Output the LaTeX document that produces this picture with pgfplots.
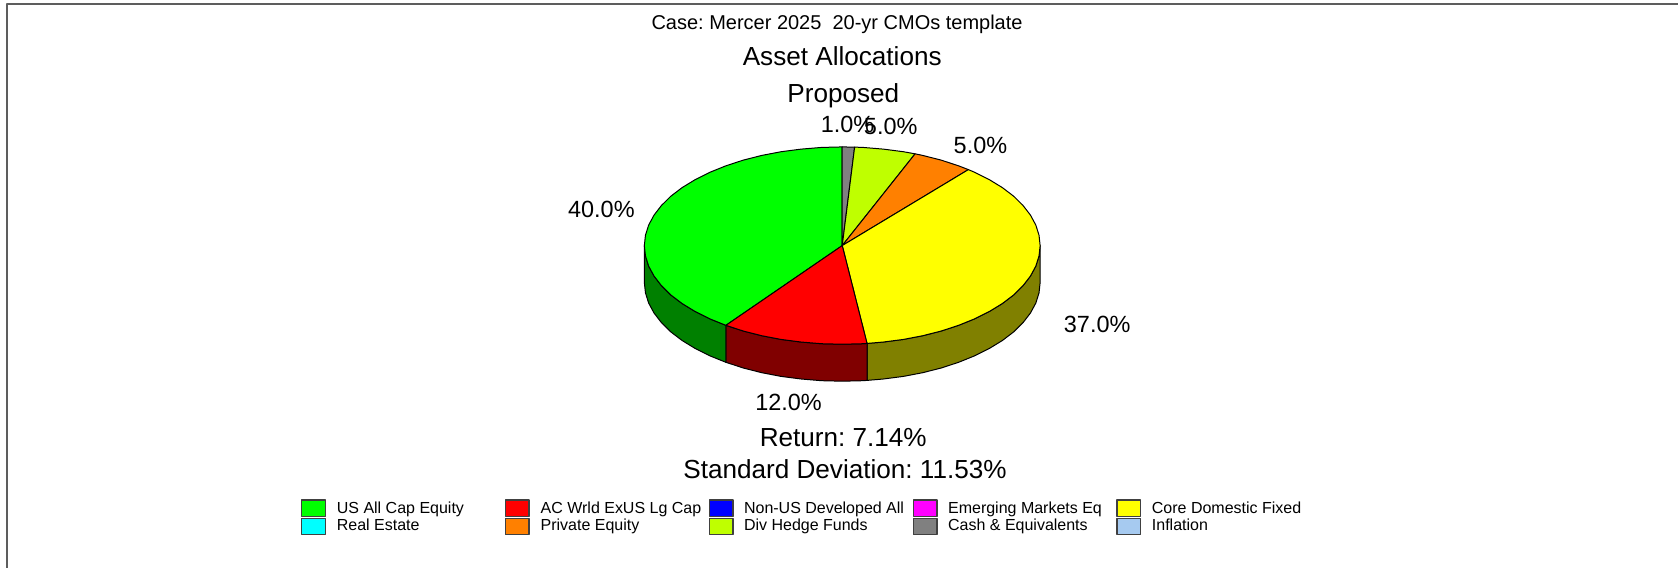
\documentclass[border=0pt]{standalone}
\usepackage{fontspec}
\setmainfont{Liberation Sans}
\usepackage{pgfplots}
\pgfplotsset{compat=1.18}
\definecolor{cGreen}{HTML}{00FF00}
\definecolor{cRed}{HTML}{FF0000}
\definecolor{cBlue}{HTML}{0000FF}
\definecolor{cMag}{HTML}{FF00FF}
\definecolor{cYel}{HTML}{FFFF00}
\definecolor{cCyan}{HTML}{00FFFF}
\definecolor{cOrange}{HTML}{FF8000}
\definecolor{cLime}{HTML}{BFFF00}
\definecolor{cGray}{HTML}{808080}
\definecolor{cInfl}{HTML}{A6CAF0}
\definecolor{dGreen}{HTML}{008000}
\definecolor{dRed}{HTML}{800000}
\definecolor{dYel}{HTML}{808000}
\definecolor{cLine}{HTML}{404040}
\begin{document}
\frenchspacing
\begin{tikzpicture}
\begin{axis}[
  scale only axis, width=1259.25pt, height=426pt,
  xmin=0, xmax=1679, ymin=0, ymax=568, y dir=reverse,
  hide axis, clip=false,
  every axis plot/.append style={line width=0.75pt, line join=round},
]
% page
\addplot[draw=none, fill=white] coordinates {(0,0)(1679,0)(1679,568)(0,568)} -- cycle;
\addplot[cLine!85!white, line width=1.4pt] coordinates {(6.8,568)(6.8,4.4)(1679,4.4)};
% side faces
\addplot[draw=black, fill=dYel] coordinates {
(1040.7,245.7)(1039.6,256.0)(1036.4,266.2)(1031.0,276.2)(1023.6,285.8)(1014.2,295.1)(1002.9,303.7)(989.8,311.7)(975.2,319.0)(959.1,325.5)(941.7,331.2)(923.2,335.9)(903.9,339.6)(883.9,342.2)(867.5,343.6)
(867.5,380.6)(883.9,379.2)(903.9,376.6)(923.2,372.9)(941.7,368.2)(959.1,362.5)(975.2,356.0)(989.8,348.7)(1002.9,340.7)(1014.2,332.1)(1023.6,322.8)(1031.0,313.2)(1036.4,303.2)(1039.6,293.0)(1040.7,282.7)} -- cycle;
\addplot[draw=black, fill=dRed] coordinates {
(867.5,343.6)(863.4,343.9)(842.7,344.4)(822.0,343.9)(801.5,342.2)(781.5,339.6)(762.2,335.9)(743.7,331.2)(726.3,325.5)
(726.3,362.5)(743.7,368.2)(762.2,372.9)(781.5,376.6)(801.5,379.2)(822.0,380.9)(842.7,381.4)(863.4,380.9)(867.5,380.6)} -- cycle;
\addplot[draw=black, fill=dGreen] coordinates {
(726.3,325.5)(710.2,319.0)(695.6,311.7)(682.5,303.7)(671.2,295.1)(661.8,285.8)(654.4,276.2)(649.0,266.2)(645.8,256.0)(644.7,245.7)
(644.7,282.7)(645.8,293.0)(649.0,303.2)(654.4,313.2)(661.8,322.8)(671.2,332.1)(682.5,340.7)(695.6,348.7)(710.2,356.0)(726.3,362.5)} -- cycle;
% top wedges
\addplot[draw=black, fill=cGreen] coordinates {(842.7,245.7)
(726.3,325.5)(710.2,319.0)(695.6,311.7)(682.5,303.7)(671.2,295.1)(661.8,285.8)(654.4,276.2)(649.0,266.2)(645.8,256.0)(644.7,245.7)(645.8,235.4)(649.0,225.2)(654.4,215.2)(661.8,205.6)(671.2,196.3)(682.5,187.7)(695.6,179.7)(710.2,172.4)(726.3,165.9)(743.7,160.2)(762.2,155.5)(781.5,151.8)(801.5,149.2)(822.0,147.5)(842.7,147.0)} -- cycle;
\addplot[draw=black, fill=cGray] coordinates {(842.7,245.7)(842.7,147.0)(855.1,147.2)} -- cycle;
\addplot[draw=black, fill=cLime] coordinates {(842.7,245.7)(855.1,147.2)(863.4,147.5)(883.9,149.2)(903.9,151.8)(915.6,153.9)} -- cycle;
\addplot[draw=black, fill=cOrange] coordinates {(842.7,245.7)(915.6,153.9)(923.2,155.5)(941.7,160.2)(959.1,165.9)(968.9,169.7)} -- cycle;
\addplot[draw=black, fill=cYel] coordinates {(842.7,245.7)(968.9,169.7)(975.2,172.4)(989.8,179.7)(1002.9,187.7)(1014.2,196.3)(1023.6,205.6)(1031.0,215.2)(1036.4,225.2)(1039.6,235.4)(1040.7,245.7)(1039.6,256.0)(1036.4,266.2)(1031.0,276.2)(1023.6,285.8)(1014.2,295.1)(1002.9,303.7)(989.8,311.7)(975.2,319.0)(959.1,325.5)(941.7,331.2)(923.2,335.9)(903.9,339.6)(883.9,342.2)(867.5,343.6)} -- cycle;
\addplot[draw=black, fill=cRed] coordinates {(842.7,245.7)(867.5,343.6)(863.4,343.9)(842.7,344.4)(822.0,343.9)(801.5,342.2)(781.5,339.6)(762.2,335.9)(743.7,331.2)(726.3,325.5)} -- cycle;
% legend swatches
\addplot[draw=cLine, fill=cGreen, line width=1pt] coordinates {(301.8,500.3)(325.5,500.3)(325.5,516.6)(301.8,516.6)} -- cycle;
\addplot[draw=cLine, fill=cCyan, line width=1pt] coordinates {(301.8,518.6)(325.5,518.6)(325.5,534.8)(301.8,534.8)} -- cycle;
\addplot[draw=cLine, fill=cRed, line width=1pt] coordinates {(505.6,500.3)(529.4,500.3)(529.4,516.6)(505.6,516.6)} -- cycle;
\addplot[draw=cLine, fill=cOrange, line width=1pt] coordinates {(505.6,518.6)(529.4,518.6)(529.4,534.8)(505.6,534.8)} -- cycle;
\addplot[draw=cLine, fill=cBlue, line width=1pt] coordinates {(709.7,500.3)(733.3,500.3)(733.3,516.6)(709.7,516.6)} -- cycle;
\addplot[draw=cLine, fill=cLime, line width=1pt] coordinates {(709.7,518.6)(733.3,518.6)(733.3,534.8)(709.7,534.8)} -- cycle;
\addplot[draw=cLine, fill=cMag, line width=1pt] coordinates {(913.7,500.3)(937.4,500.3)(937.4,516.6)(913.7,516.6)} -- cycle;
\addplot[draw=cLine, fill=cGray, line width=1pt] coordinates {(913.7,518.6)(937.4,518.6)(937.4,534.8)(913.7,534.8)} -- cycle;
\addplot[draw=cLine, fill=cYel, line width=1pt] coordinates {(1117.5,500.3)(1141.3,500.3)(1141.3,516.6)(1117.5,516.6)} -- cycle;
\addplot[draw=cLine, fill=cInfl, line width=1pt] coordinates {(1117.5,518.6)(1141.3,518.6)(1141.3,534.8)(1117.5,534.8)} -- cycle;
% texts
\node[inner sep=0, font=\fontsize{15}{15}\selectfont] at (axis cs:837.5,24) {Case: Mercer 2025\ \ 20-yr CMOs template};
\node[inner sep=0, font=\fontsize{19.6}{20}\selectfont] at (axis cs:842.7,55.7) {Asset Allocations};
\node[inner sep=0, font=\fontsize{19.6}{20}\selectfont] at (axis cs:843.8,96) {Proposed};
\foreach \x/\y/\t in {848/124/1.0,891.2/126/5.0,981/145.5/5.0,1097.8/324.5/37.0,789/402.5/12.0,601.7/210/40.0}{
  \edef\tmp{\noexpand\node[inner sep=0, font=\noexpand\fontsize{17.6}{18}\noexpand\selectfont] at (axis cs:\x,\y) {\t\noexpand\%};}
  \tmp
}
\node[inner sep=0, font=\fontsize{19.6}{20}\selectfont] at (axis cs:843.7,438) {Return: 7.14\%};
\node[inner sep=0, font=\fontsize{19.6}{20}\selectfont] at (axis cs:845.5,469.5) {Standard Deviation: 11.53\%};
\foreach \x/\y/\t in {336.8/510/US All Cap Equity,336.8/527/Real Estate,540.7/510/AC Wrld ExUS Lg Cap,540.7/527/Private Equity,744.2/510/Non-US Developed All,744.2/527/Div Hedge Funds,948.4/510/Emerging Markets Eq,948.4/527/Cash \& Equivalents,1152.3/510/Core Domestic Fixed,1152.3/527/Inflation}{
  \edef\tmp{\noexpand\node[inner sep=0, anchor=west, font=\noexpand\fontsize{12}{12}\noexpand\selectfont] at (axis cs:\x,\y) {\noexpand\strut\unexpanded\expandafter{\t}};}
  \tmp
}
\end{axis}
\end{tikzpicture}
\end{document}
